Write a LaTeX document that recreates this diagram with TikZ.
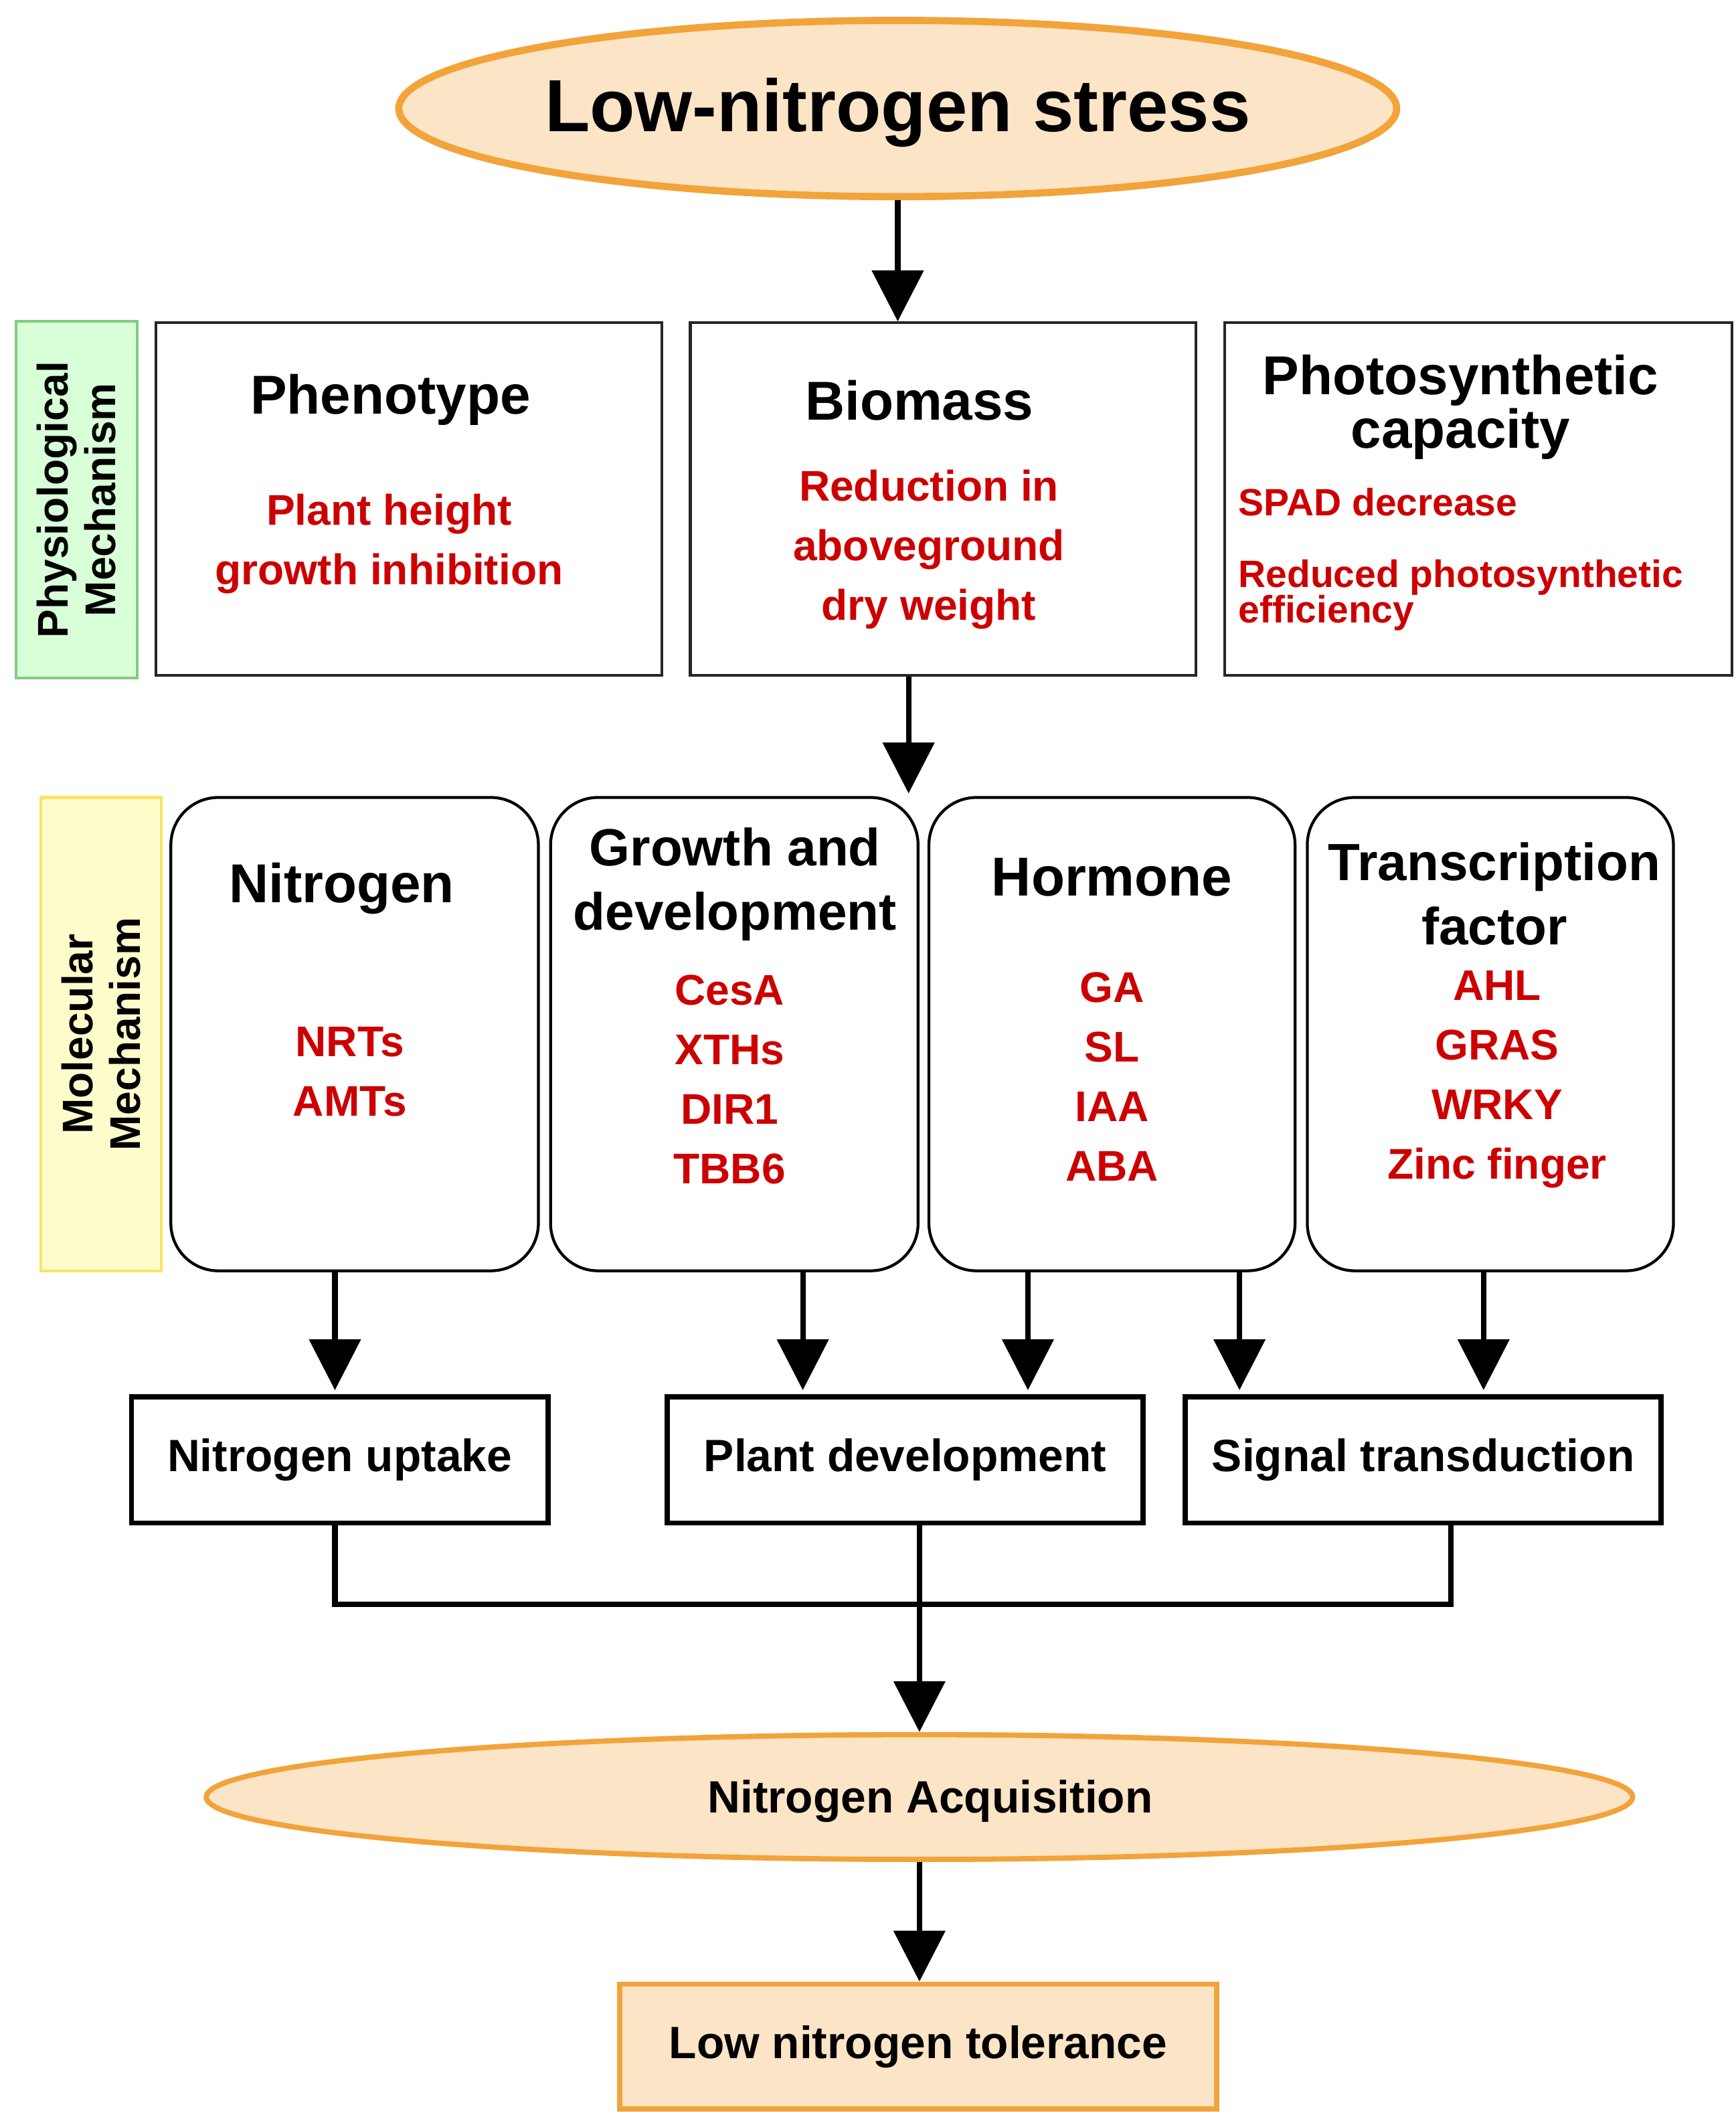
\documentclass[tikz,border=0pt]{standalone}
\usepackage{fontspec}
\setmainfont{Liberation Sans}
\usetikzlibrary{arrows.meta,fit,shapes.geometric}
\definecolor{ored}{HTML}{CC0000}
\definecolor{ofill}{HTML}{FCE4C6}
\definecolor{oline}{HTML}{F2A33A}
\begin{document}
\begin{tikzpicture}[x=0.02cm,y=-0.02cm,
  box/.style={draw=black!85,line width=1.2pt,inner sep=0pt},
  rbox/.style={draw=black,line width=1.2pt,rounded corners=0.7cm,inner sep=0pt},
  bbox/.style={draw=black,line width=2.2pt,inner sep=0pt},
  arr/.style={line width=2.3pt,-{Triangle[length=0.75cm,width=0.75cm]}},
  ln/.style={line width=2.3pt},
  ttl/.style={font=\fontsize{23}{25}\selectfont\bfseries,align=center},
  red/.style={text=ored,font=\fontsize{18}{25}\selectfont\bfseries,align=center},
  lab/.style={font=\fontsize{18}{20}\selectfont\bfseries,align=center,rotate=90}]
\useasboundingbox (0,0) rectangle (1280,1558);
% top
\node[ellipse,draw=oline,fill=ofill,line width=3pt,minimum width=14.72cm,minimum height=2.6cm,inner sep=0pt] (top) at (662,80) {};
\node[font=\fontsize{31}{33}\selectfont\bfseries] (toptxt) at (662,83) {Low-nitrogen stress};
% physiological
\node[draw=green!60!black!50,fill=green!15,line width=1.2pt,inner sep=0pt,fit={(12,237)(101,500)}] (phys) {};
\node[lab] (physt) at (phys.center) {Physiological\\Mechanism};
\node[box,fit={(115,238)(488,498)}] (pheno) {};
\node[box,fit={(509,238)(882,498)}] (bio) {};
\node[box,fit={(903,238)(1277,498)}] (photo) {};
\node[ttl] (t1) at (288,295) {Phenotype};
\node[red] (r1) at (287,401) {Plant height\\growth inhibition};
\node[ttl] (t2) at (678,295) {Biomass};
\node[red] (r2) at (685,405) {Reduction in\\aboveground\\dry weight};
\node[ttl,font=\fontsize{23}{21}\selectfont\bfseries] (t3) at (1077,300) {Photosynthetic\\capacity};
\node[red,anchor=west,font=\fontsize{16}{17}\selectfont\bfseries] (r3a) at (907,370) {SPAD decrease};
\node[red,anchor=west,align=left,font=\fontsize{16}{15}\selectfont\bfseries] (r3b) at (907,439) {Reduced photosynthetic\\efficiency};
\draw[arr] (top) -- (bio.north -| top);
% molecular
\node[draw=yellow!70!orange!60,fill=yellow!20,line width=1.2pt,inner sep=0pt,fit={(30,588)(119,937)}] (mol) {};
\node[lab] (molt) at (mol.center) {Molecular\\Mechanism};
\node[rbox,fit={(126,588)(397,937)}] (nit) {};
\node[rbox,fit={(406,588)(677,937)}] (grow) {};
\node[rbox,fit={(685,588)(955,937)}] (hor) {};
\node[rbox,fit={(964,588)(1234,937)}] (tf) {};
\draw[arr] (bio.south -| 670,0) -- (670,585);
\node[ttl] (m1) at (252,655) {Nitrogen};
\node[red] (n1) at (258,790) {NRTs\\AMTs};
\node[ttl,font=\fontsize{22}{27}\selectfont\bfseries] (m2) at (542,652) {Growth and\\development};
\node[red] (n2) at (538,796) {CesA\\XTHs\\DIR1\\TBB6};
\node[ttl] (m3) at (820,647) {Hormone};
\node[red] (n3) at (820,794) {GA\\SL\\IAA\\ABA};
\node[ttl,font=\fontsize{22}{27}\selectfont\bfseries] (m4) at (1102,659) {Transcription\\factor};
\node[red] (n4) at (1104,796) {AHL\\GRAS\\WRKY\\Zinc finger};
% bottom boxes
\node[bbox,fit={(97,1030)(404,1123)}] (up) {};
\node[font=\fontsize{19}{21}\selectfont\bfseries] at (up.center) {Nitrogen uptake};
\node[bbox,fit={(492,1030)(843,1123)}] (dev) {};
\node[font=\fontsize{19}{21}\selectfont\bfseries] at (dev.center) {Plant development};
\node[bbox,fit={(874,1030)(1225,1123)}] (sig) {};
\node[font=\fontsize{19}{21}\selectfont\bfseries] at (sig.center) {Signal transduction};
\draw[arr] (nit.south -| 247,0) -- (247,1025);
\draw[arr] (grow.south -| 592,0) -- (592,1025);
\draw[arr] (hor.south -| 758,0) -- (758,1025);
\draw[arr] (hor.south -| 914,0) -- (914,1025);
\draw[arr] (tf.south -| 1094,0) -- (1094,1025);
% merge
\coordinate (j1) at (247,1183);
\coordinate (j2) at (1070,1183);
\draw[ln] (up.south -| j1) -- (j1) -- (j2) -- (sig.south -| j2);
\node[ellipse,draw=oline,fill=ofill,line width=2.2pt,minimum width=21.04cm,minimum height=1.84cm,inner sep=0pt] (acq) at (678,1325) {};
\node[font=\fontsize{19}{21}\selectfont\bfseries] at (686,1328) {Nitrogen Acquisition};
\draw[arr] (dev.south -| 678,0) -- (acq.north -| 678,0);
\node[draw=oline,fill=ofill,line width=2.2pt,inner sep=0pt,fit={(457,1463)(897,1555)}] (tol) {};
\node[font=\fontsize{19}{21}\selectfont\bfseries] at (tol.center) {Low nitrogen tolerance};
\draw[arr] (acq.south -| 678,0) -- (tol.north -| 678,0);
\end{tikzpicture}
\end{document}
